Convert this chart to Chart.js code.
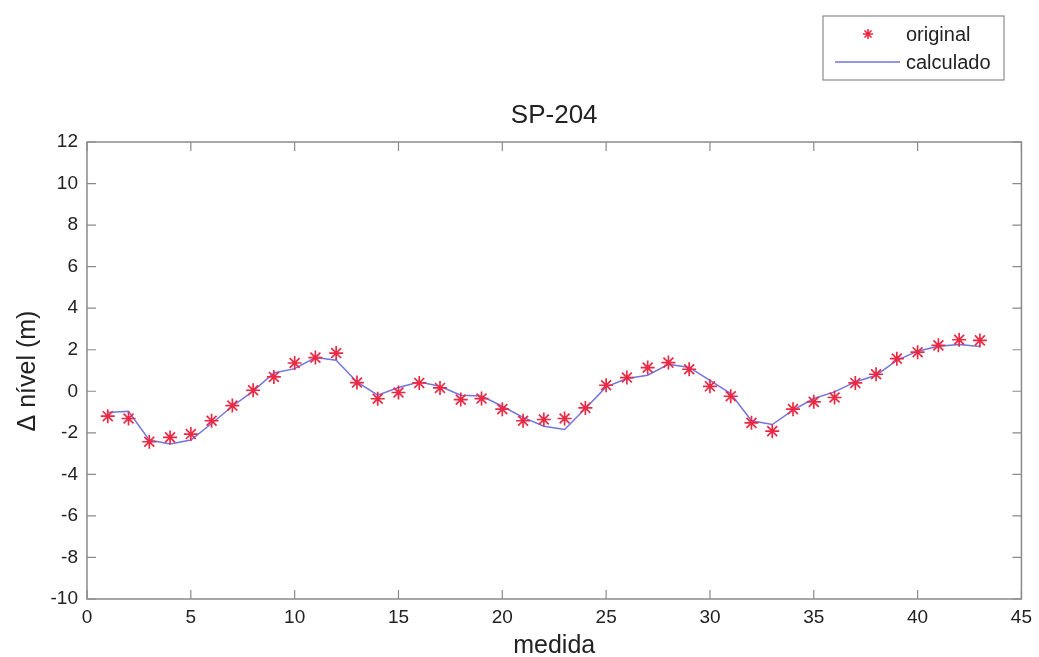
<!DOCTYPE html>
<html lang="pt">
<head>
<meta charset="UTF-8">
<title>SP-204</title>
<script src="https://cdn.jsdelivr.net/npm/chart.js"></script>
<style>
  html,body{margin:0;padding:0;background:#fff;}
  #wrap{width:1039px;height:657px;}
</style>
</head>
<body>
<div id="wrap"><canvas id="cv" width="1039" height="657"></canvas></div>
<script>
// medida 1..43
const medida = [1,2,3,4,5,6,7,8,9,10,11,12,13,14,15,16,17,18,19,20,21,22,23,24,25,26,27,28,29,30,31,32,33,34,35,36,37,38,39,40,41,42,43];
const original = [-1.20,-1.31,-2.43,-2.22,-2.06,-1.42,-0.69,0.05,0.69,1.36,1.62,1.84,0.42,-0.36,-0.06,0.40,0.16,-0.40,-0.35,-0.86,-1.42,-1.36,-1.31,-0.80,0.29,0.66,1.14,1.38,1.06,0.24,-0.24,-1.52,-1.92,-0.86,-0.51,-0.30,0.40,0.82,1.57,1.88,2.21,2.48,2.45];
const calculado = [-1.02,-0.96,-2.35,-2.54,-2.35,-1.55,-0.72,0.01,0.88,1.09,1.62,1.49,0.45,-0.19,0.18,0.45,0.24,-0.19,-0.23,-0.72,-1.26,-1.68,-1.84,-0.83,0.21,0.61,0.77,1.30,1.15,0.53,-0.11,-1.42,-1.60,-0.91,-0.35,-0.03,0.45,0.77,1.49,1.93,2.17,2.25,2.16];
const xTicks = [0,5,10,15,20,25,30,35,40,45];
const yTicks = [-10,-8,-6,-4,-2,0,2,4,6,8,10,12];

const FONT = '"Liberation Sans", Arial, sans-serif';
const INK = '#222';
const LINE_COL = '#7474de';
const STAR_COL = '#ea2a44';

// matlab-style frame: full box, inward ticks, title, axis labels, legend
const frame = {
  id: 'frame',
  afterDraw(chart) {
    const {ctx, chartArea: a, scales: {x, y}} = chart;
    ctx.save();
    ctx.strokeStyle = '#8a8a8a';
    ctx.lineWidth = 1.5;
    ctx.strokeRect(a.left, a.top, a.right - a.left, a.bottom - a.top);
    ctx.lineWidth = 1.2;
    ctx.beginPath();
    xTicks.forEach(v => {
      const px = x.getPixelForValue(v);
      ctx.moveTo(px, a.bottom); ctx.lineTo(px, a.bottom - 9);
      ctx.moveTo(px, a.top); ctx.lineTo(px, a.top + 9);
    });
    yTicks.forEach(v => {
      const py = y.getPixelForValue(v);
      ctx.moveTo(a.left, py); ctx.lineTo(a.left + 9, py);
      ctx.moveTo(a.right, py); ctx.lineTo(a.right - 9, py);
    });
    ctx.stroke();

    const cx = (a.left + a.right) / 2;
    ctx.fillStyle = INK;
    ctx.textAlign = 'center';
    ctx.textBaseline = 'middle';
    ctx.font = '26px ' + FONT;
    ctx.fillText('SP-204', cx, 116);
    ctx.font = '25px ' + FONT;
    ctx.fillText('medida', cx, 646);
    ctx.save();
    ctx.translate(28, 371);
    ctx.rotate(-Math.PI / 2);
    ctx.fillText('\u0394 n\u00edvel (m)', 0, 0);
    ctx.restore();

    // legend
    ctx.fillStyle = '#fff';
    ctx.fillRect(823, 16, 181, 64);
    ctx.strokeStyle = '#8a8a8a';
    ctx.lineWidth = 1.2;
    ctx.strokeRect(823, 16, 181, 64);
    drawStar(ctx, 868, 34, 5);
    ctx.strokeStyle = LINE_COL;
    ctx.lineWidth = 1.5;
    ctx.beginPath(); ctx.moveTo(835, 62); ctx.lineTo(900, 62); ctx.stroke();
    ctx.fillStyle = INK;
    ctx.textAlign = 'left';
    ctx.font = '20px ' + FONT;
    ctx.fillText('original', 906, 35);
    ctx.fillText('calculado', 906, 63);
    ctx.restore();
  }
};

function drawStar(ctx, cx, cy, r) {
  ctx.save();
  ctx.strokeStyle = STAR_COL;
  ctx.lineWidth = 1.6;
  ctx.beginPath();
  ctx.moveTo(cx - r, cy); ctx.lineTo(cx + r, cy);
  ctx.moveTo(cx, cy - r); ctx.lineTo(cx, cy + r);
  const d = r * 0.7;
  ctx.moveTo(cx - d, cy - d); ctx.lineTo(cx + d, cy + d);
  ctx.moveTo(cx - d, cy + d); ctx.lineTo(cx + d, cy - d);
  ctx.stroke();
  ctx.restore();
}

new Chart(document.getElementById('cv'), {
  type: 'line',
  data: {
    datasets: [
      {
        label: 'original',
        data: medida.map((m, i) => ({x: m, y: original[i]})),
        showLine: false,
        pointStyle: 'star',
        pointRadius: 7,
        pointBorderWidth: 1.7,
        pointBorderColor: STAR_COL,
        pointBackgroundColor: STAR_COL,
        order: 0
      },
      {
        label: 'calculado',
        data: medida.map((m, i) => ({x: m, y: calculado[i]})),
        borderColor: LINE_COL,
        borderWidth: 1.5,
        pointRadius: 0,
        tension: 0,
        order: 1
      }
    ]
  },
  options: {
    responsive: false,
    animation: false,
    layout: {padding: {left: 0, right: 13, top: 142, bottom: 0}},
    plugins: {
      legend: {display: false},
      tooltip: {enabled: false},
      title: {display: false}
    },
    scales: {
      x: {
        type: 'linear',
        min: 0, max: 45,
        afterBuildTicks: s => { s.ticks = xTicks.map(v => ({value: v})); },
        afterFit: s => { s.height = 58; },
        grid: {display: false, drawTicks: false},
        border: {display: false},
        ticks: {color: INK, font: {family: FONT, size: 19}, padding: 7, maxRotation: 0}
      },
      y: {
        min: -10, max: 12,
        afterBuildTicks: s => { s.ticks = yTicks.map(v => ({value: v})); },
        afterFit: s => { s.width = 87; },
        grid: {display: false, drawTicks: false},
        border: {display: false},
        ticks: {color: INK, font: {family: FONT, size: 19}, padding: 9}
      }
    }
  },
  plugins: [frame]
});
</script>
</body>
</html>
